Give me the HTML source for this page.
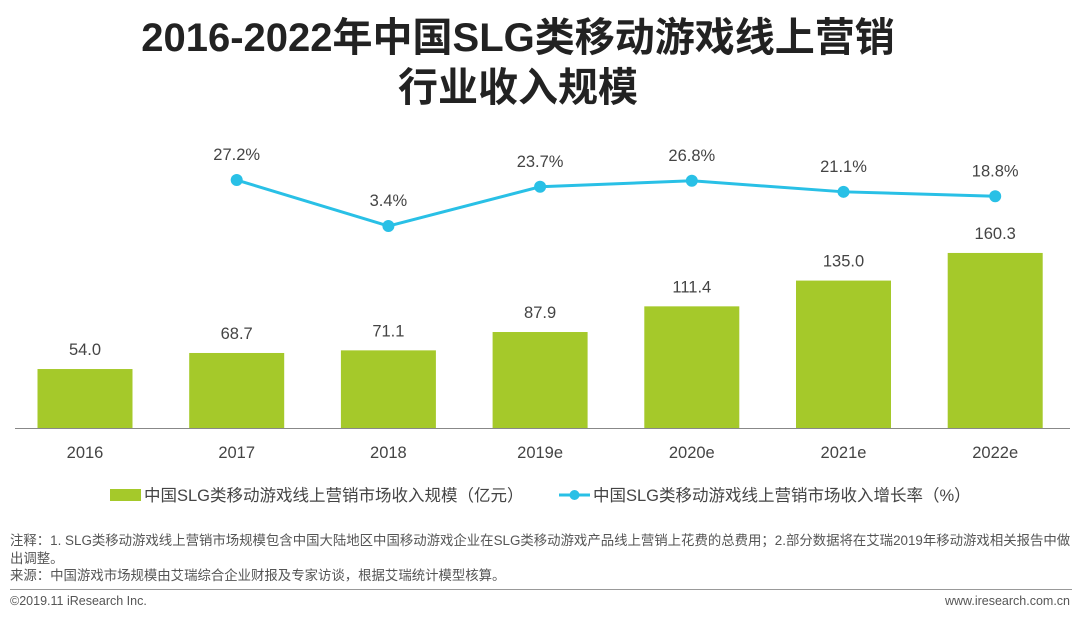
<!DOCTYPE html>
<html><head><meta charset="utf-8"><style>
body{margin:0;background:#fff;font-family:"Liberation Sans","Noto Sans CJK SC",sans-serif;}
#wrap{position:relative;width:1080px;height:621px;overflow:hidden;}
.t{position:absolute;white-space:nowrap;}
</style></head><body>
<div id="wrap">
<div class="t" style="left:0;width:1036px;text-align:center;top:13px;font-size:40px;font-weight:bold;color:#222;line-height:50px;">2016-2022年中国SLG类移动游戏线上营销<br>行业收入规模</div>
<svg id="chart" width="1080" height="621" style="position:absolute;left:0;top:0"></svg>
<div class="t" style="left:10px;top:532px;font-size:13.4px;color:#555;line-height:17.5px;">注释：1. SLG类移动游戏线上营销市场规模包含中国大陆地区中国移动游戏企业在SLG类移动游戏产品线上营销上花费的总费用；2.部分数据将在艾瑞2019年移动游戏相关报告中做<br>出调整。<br>来源：中国游戏市场规模由艾瑞综合企业财报及专家访谈，根据艾瑞统计模型核算。</div>
<div style="position:absolute;left:10px;top:589px;width:1062px;height:1px;background:#999"></div>
<div class="t" style="left:10px;top:594px;font-size:12.5px;color:#555;">©2019.11 iResearch Inc.</div>
<div class="t" style="right:10px;top:594px;font-size:12.5px;color:#555;">www.iresearch.com.cn</div>
</div>
<script>
const categories=["2016","2017","2018","2019e","2020e","2021e","2022e"];
const revenue=[54.0,68.7,71.1,87.9,111.4,135.0,160.3];
const growth=[null,27.2,3.4,23.7,26.8,21.1,18.8];
const revenueLabels=["54.0","68.7","71.1","87.9","111.4","135.0","160.3"];
const growthLabels=["","27.2%","3.4%","23.7%","26.8%","21.1%","18.8%"];
const svg=document.getElementById('chart');const NS='http://www.w3.org/2000/svg';
function mk(t,a,p){const e=document.createElementNS(NS,t);for(const k in a)e.setAttribute(k,a[k]);(p||svg).appendChild(e);return e;}
const x=i=>85+i*151.7, yB=v=>428-v*1.092, yL=v=>232.6-v*1.933;
const bw=95;
categories.forEach((c,i)=>{
 const r=mk('rect',{x:x(i)-bw/2,y:yB(revenue[i]),width:bw,height:428-yB(revenue[i]),fill:'#a5c92a'});
 
 
 const l=mk('text',{x:x(i),y:yB(revenue[i])-14,'text-anchor':'middle','font-size':16.5,fill:'#444'});l.textContent=revenueLabels[i];
 
 
 const t=mk('text',{x:x(i),y:458,'text-anchor':'middle','font-size':16.5,fill:'#444'});t.textContent=c;
 
 
});
const ax=mk('line',{x1:15,x2:1070,y1:428.5,y2:428.5,stroke:'#888','stroke-width':1});


let pts=[];growth.forEach((g,i)=>{if(g!==null)pts.push(x(i)+','+yL(g));});
const pl=mk('polyline',{points:pts.join(' '),fill:'none',stroke:'#29c0e6','stroke-width':3});


growth.forEach((g,i)=>{if(g===null)return;
 const c=mk('circle',{cx:x(i),cy:yL(g),r:6,fill:'#29c0e6'});
 
 
 const l=mk('text',{x:x(i),y:yL(g)-20,'text-anchor':'middle','font-size':16.5,fill:'#444'});l.textContent=growthLabels[i];
 
 
});
const g1=mk('g',{});
mk('rect',{x:110,y:489,width:31,height:12,fill:'#a5c92a'},g1);
const lt1=mk('text',{x:144,y:501,'font-size':16.5,fill:'#444'},g1);lt1.textContent='中国SLG类移动游戏线上营销市场收入规模（亿元）';
const g2=mk('g',{});
mk('line',{x1:559,x2:590,y1:495,y2:495,stroke:'#29c0e6','stroke-width':3},g2);
mk('circle',{cx:574.5,cy:495,r:5,fill:'#29c0e6'},g2);
const lt2=mk('text',{x:593,y:501,'font-size':16.5,fill:'#444'},g2);lt2.textContent='中国SLG类移动游戏线上营销市场收入增长率（%）';
</script>
</body></html>
